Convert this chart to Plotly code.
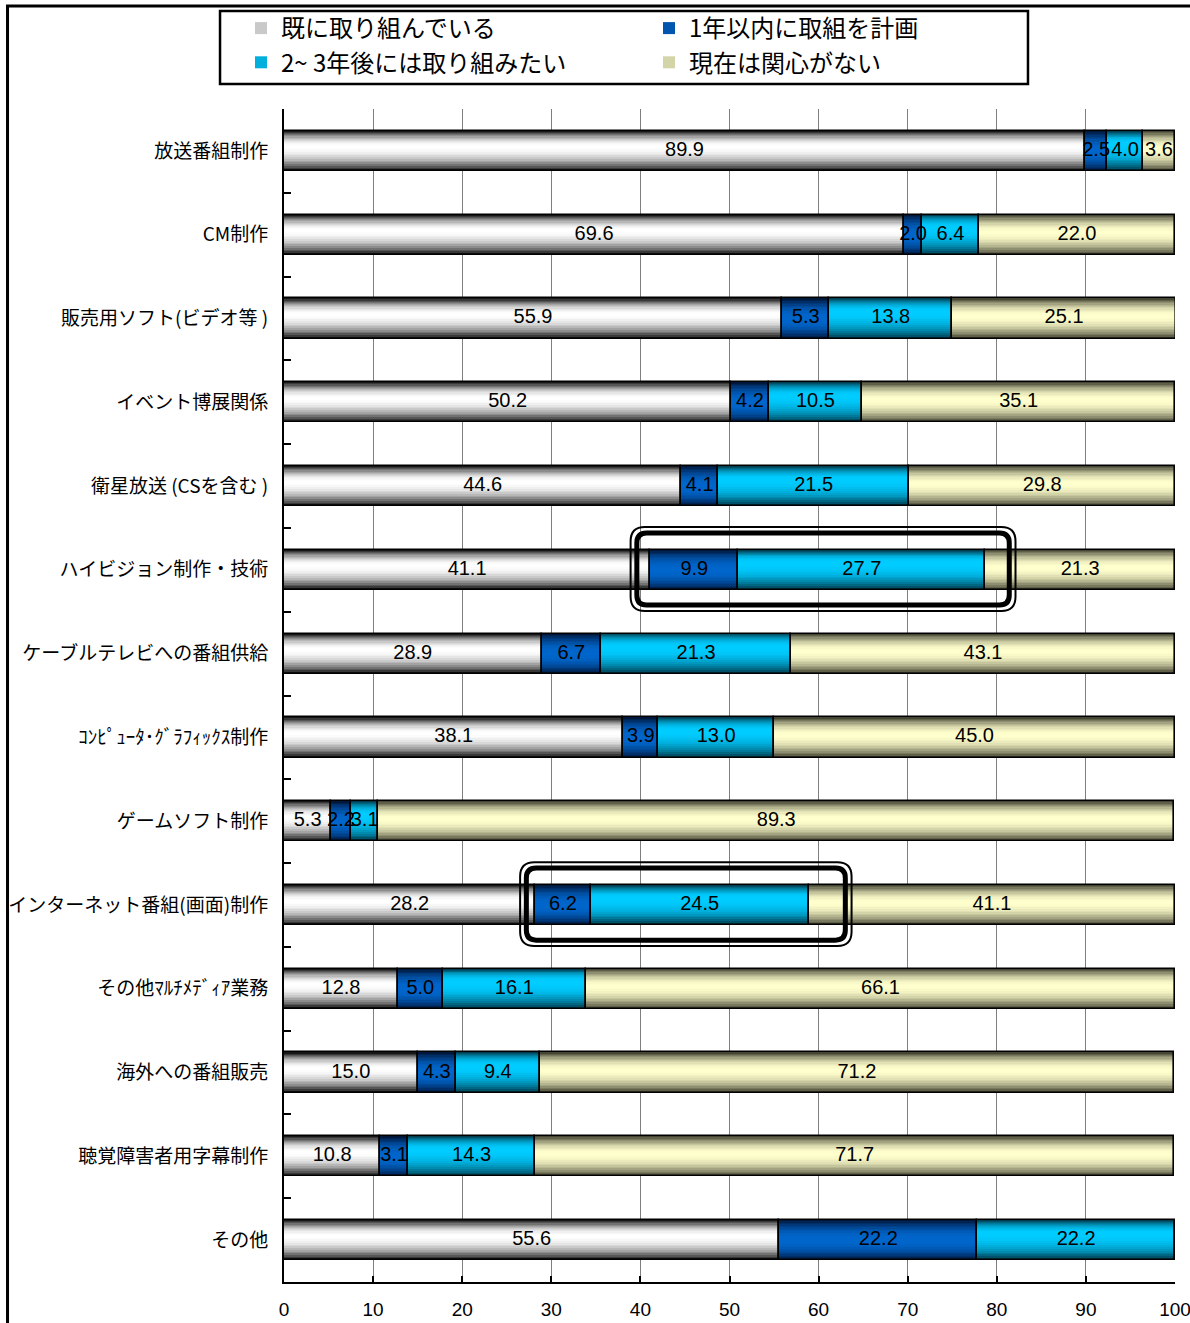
import plotly.graph_objects as go

# ---- data ---------------------------------------------------------------
categories = [
    "放送番組制作",
    "CM制作",
    "販売用ソフト(ビデオ等 )",
    "イベント博展関係",
    "衛星放送 (CSを含む )",
    "ハイビジョン制作・技術",
    "ケーブルテレビへの番組供給",
    "ｺﾝﾋﾟｭｰﾀ･ｸﾞﾗﾌｨｯｸｽ制作",
    "ゲームソフト制作",
    "インターネット番組(画面)制作",
    "その他ﾏﾙﾁﾒﾃﾞｨｱ業務",
    "海外への番組販売",
    "聴覚障害者用字幕制作",
    "その他",
]

series_names = [
    "既に取り組んでいる",
    "1年以内に取組を計画",
    "2~ 3年後には取り組みたい",
    "現在は関心がない",
]

already_doing = [89.9, 69.6, 55.9, 50.2, 44.6, 41.1, 28.9, 38.1, 5.3, 28.2, 12.8, 15.0, 10.8, 55.6]
within_1_year = [2.5, 2.0, 5.3, 4.2, 4.1, 9.9, 6.7, 3.9, 2.2, 6.2, 5.0, 4.3, 3.1, 22.2]
in_2_3_years = [4.0, 6.4, 13.8, 10.5, 21.5, 27.7, 21.3, 13.0, 3.1, 24.5, 16.1, 9.4, 14.3, 22.2]
not_interested = [3.6, 22.0, 25.1, 35.1, 29.8, 21.3, 43.1, 45.0, 89.3, 41.1, 66.1, 71.2, 71.7, 0.0]

x_tick_values = [0, 10, 20, 30, 40, 50, 60, 70, 80, 90, 100]

# rows that get a rounded highlight frame around the planning segments
highlight_rows = [5, 9]

# ---- styling ------------------------------------------------------------
series = [already_doing, within_1_year, in_2_3_years, not_interested]

# cylinder-like shading: colour at the bar edge, colour in the light band,
# shift of the light band (category units, negative = upwards), falloff
shading = [
    dict(edge=(5, 5, 5), center=(255, 255, 255), shift=-0.05, power=2.0),
    dict(edge=(0, 16, 48), center=(0, 102, 204), shift=0.0, power=2.2),
    dict(edge=(0, 48, 64), center=(0, 204, 255), shift=-0.08, power=2.2),
    dict(edge=(55, 55, 40), center=(255, 255, 205), shift=-0.03, power=2.0),
]

LAYERS = 14
BAR_H = 0.48
LABEL_FONT = "Noto Sans CJK JP"
NUM_FONT = "Liberation Sans"

y_pos = list(range(len(categories)))

# cumulative bases for the stacked segments
bases = []
running = [0.0] * len(categories)
for vals in series:
    bases.append(list(running))
    running = [r + v for r, v in zip(running, vals)]


def mix(c1, c2, a):
    r, g, b = (round(c1[i] + (c2[i] - c1[i]) * a) for i in range(3))
    return f"rgb({r},{g},{b})"


fig = go.Figure()

# shaded segments, built from nested overlaid bars of shrinking thickness
legend_layer = LAYERS // 2
for si, vals in enumerate(series):
    spec = shading[si]
    for k in range(LAYERS):
        frac = k / LAYERS
        width = BAR_H * (1 - frac)
        offset = -BAR_H / 2 + frac * (BAR_H / 2 + spec["shift"])
        t = 1 - (k + 0.5) / LAYERS
        a = 1 - t ** spec["power"]
        fig.add_trace(go.Bar(
            x=vals, y=y_pos, base=bases[si], orientation="h",
            width=width, offset=offset,
            marker=dict(color=mix(spec["edge"], spec["center"], a), line=dict(width=0)),
            name=series_names[si], showlegend=(k == legend_layer),
            hoverinfo="skip",
        ))

# outlines of every segment
for si, vals in enumerate(series):
    fig.add_trace(go.Bar(
        x=vals, y=y_pos, base=bases[si], orientation="h",
        width=BAR_H, offset=-BAR_H / 2,
        marker=dict(color="rgba(0,0,0,0)", line=dict(color="black", width=1.6)),
        showlegend=False, hoverinfo="skip", cliponaxis=False,
    ))

# value labels centred in each segment
for si, vals in enumerate(series):
    xs, ys, txt = [], [], []
    for i, v in enumerate(vals):
        if v > 0:
            xs.append(bases[si][i] + v / 2)
            ys.append(i)
            txt.append(f"{v:.1f}")
    fig.add_trace(go.Scatter(
        x=xs, y=ys, mode="text", text=txt, textposition="middle center",
        textfont=dict(family=NUM_FONT, size=20, color="black"),
        showlegend=False, hoverinfo="skip", cliponaxis=False,
    ))


def rounded_rect(x0, x1, y0, y1, rx, ry):
    return (f"M {x0 + rx},{y0} L {x1 - rx},{y0} Q {x1},{y0} {x1},{y0 + ry} "
            f"L {x1},{y1 - ry} Q {x1},{y1} {x1 - rx},{y1} "
            f"L {x0 + rx},{y1} Q {x0},{y1} {x0},{y1 - ry} "
            f"L {x0},{y0 + ry} Q {x0},{y0} {x0 + rx},{y0} Z")


# highlight frames: thick inner line with a thin outer line
frame_pad = {5: (1.5, 2.7), 9: (1.0, 4.1)}
for row in highlight_rows:
    left = bases[1][row] - frame_pad[row][0]
    right = bases[2][row] + in_2_3_years[row] + frame_pad[row][1]
    fig.add_shape(type="path", xref="x", yref="y", layer="above",
                  path=rounded_rect(left, right, row - 0.44, row + 0.42, 1.1, 0.12),
                  line=dict(color="black", width=5))
    fig.add_shape(type="path", xref="x", yref="y", layer="above",
                  path=rounded_rect(left - 0.7, right + 0.7, row - 0.51, row + 0.49, 1.6, 0.17),
                  line=dict(color="black", width=2))

# legend frame and outer figure frame
fig.add_shape(type="rect", xref="paper", yref="paper",
              x0=-0.0718, x1=0.835, y0=1.0213, y1=1.0835,
              line=dict(color="black", width=2.5))
fig.add_shape(type="rect", xref="paper", yref="paper",
              x0=-0.3103, x1=1.06, y0=-0.06, y1=1.0878,
              line=dict(color="black", width=3))

fig.update_layout(
    width=1190, height=1323,
    margin=dict(l=284, r=15, t=109, b=41, autoexpand=False),
    paper_bgcolor="white", plot_bgcolor="white",
    barmode="overlay", bargap=0,
    font=dict(family=LABEL_FONT, color="black"),
    legend=dict(
        orientation="h", xref="container", yref="container",
        x=241 / 1190, y=1 - 6 / 1323, xanchor="left", yanchor="top",
        entrywidth=363, entrywidthmode="pixels",
        font=dict(family=LABEL_FONT, size=24, color="black"),
        bgcolor="rgba(0,0,0,0)", borderwidth=0, traceorder="normal",
    ),
    showlegend=True,
)

fig.update_xaxes(
    range=[0, 100], tickvals=x_tick_values,
    showgrid=True, gridcolor="#7f7f7f", gridwidth=1,
    showline=True, linecolor="black", linewidth=2,
    ticks="inside", ticklen=6, tickwidth=2, tickcolor="black",
    tickfont=dict(family=NUM_FONT, size=19, color="black"),
    ticklabelstandoff=9, ticklabeloverflow="allow", zeroline=False,
    automargin=False,
)

fig.update_yaxes(
    range=[13.5, -0.5], tickvals=y_pos, ticktext=categories,
    ticks="", showgrid=False, zeroline=False,
    showline=True, linecolor="black", linewidth=2,
    tickfont=dict(family=LABEL_FONT, size=19, color="black"),
    ticklabelstandoff=10, automargin=False,
    minor=dict(tickvals=[i + 0.5 for i in range(len(categories) - 1)],
               ticks="inside", ticklen=7, tickwidth=2, tickcolor="black"),
)

fig.write_html("out.html")
